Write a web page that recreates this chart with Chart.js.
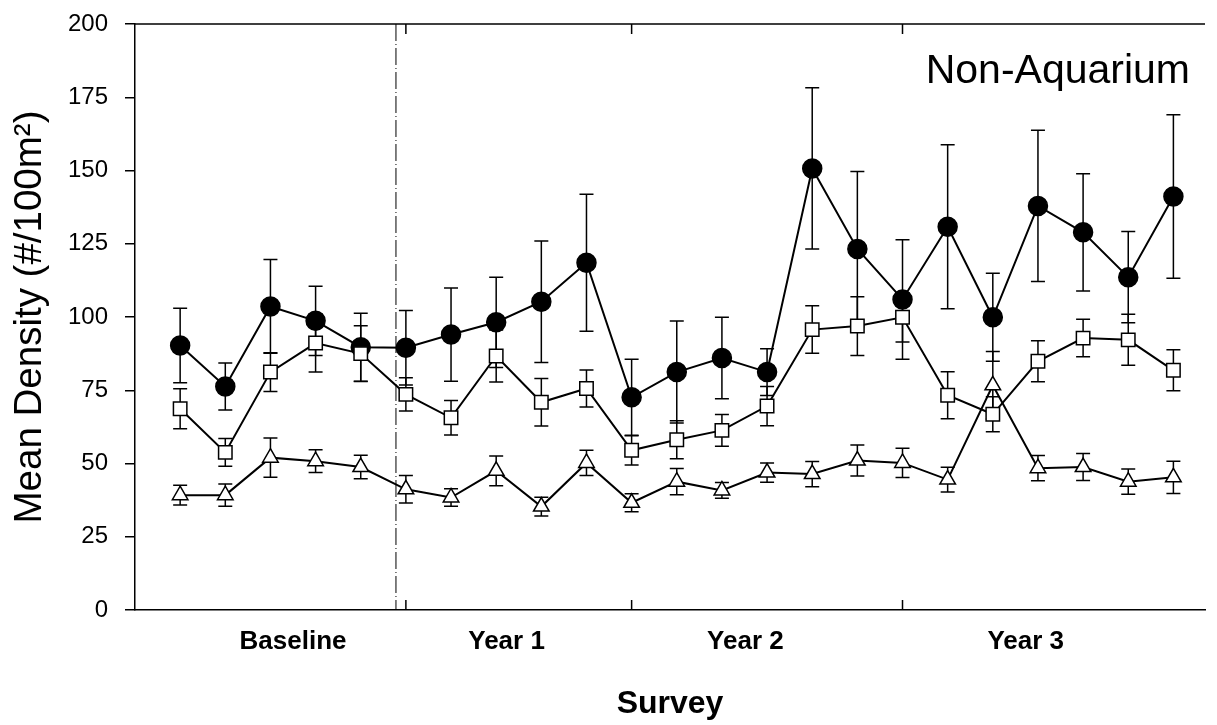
<!DOCTYPE html>
<html>
<head>
<meta charset="utf-8">
<script src="https://cdn.jsdelivr.net/npm/chart.js@4"></script>
<style>
    html, body { margin: 0; padding: 0; background: #fff; overflow: hidden; }
    #wrap { width: 1217px; height: 725px; }
</style>
</head>
<body>
<div id="wrap"><canvas id="densityChart"></canvas></div>
<script>
/*************************************************
 * Mean density per survey, Non-Aquarium sites   *
 *************************************************/
const surveys = [1, 2, 3, 4, 5, 6, 7, 8, 9, 10, 11, 12, 13, 14, 15, 16, 17, 18, 19, 20, 21, 22, 23];

// filled circles
const circleMean = [90.3, 76.3, 103.6, 98.7, 89.7, 89.5, 94.0, 98.2, 105.2, 118.5, 72.6, 81.2,
    86.0, 81.2, 150.7, 123.2, 106.0, 130.8, 99.9, 137.9, 128.9, 113.6, 141.1];
const circleErr = [12.7, 8.0, 16.0, 11.8, 11.6, 12.7, 15.9, 15.4, 20.7, 23.4, 13.0, 17.4,
    13.9, 8.0, 27.5, 26.5, 20.4, 28.0, 15.0, 25.8, 20.0, 15.6, 27.9];

// open squares
const squareMean = [68.7, 53.8, 81.2, 91.1, 87.5, 73.6, 65.6, 86.7, 70.9, 75.6, 54.5, 58.1,
    61.3, 69.6, 95.7, 96.9, 99.9, 73.3, 66.8, 84.9, 92.8, 92.2, 81.8];
const squareErr = [6.8, 4.7, 6.6, 9.9, 9.5, 5.7, 5.9, 8.9, 8.1, 6.3, 5.0, 6.5,
    5.4, 6.7, 8.1, 10.0, 8.4, 8.0, 6.0, 7.0, 6.4, 8.7, 7.0];

// open triangles
const triangleMean = [39.2, 39.2, 52.0, 50.8, 48.8, 41.2, 38.4, 47.5, 35.3, 50.2, 36.6, 43.8,
    40.8, 46.9, 46.4, 51.0, 50.2, 44.5, 76.7, 48.4, 48.8, 43.8, 45.3];
const triangleErr = [3.4, 3.8, 6.7, 3.9, 4.0, 4.7, 3.0, 5.1, 3.2, 4.3, 3.1, 4.5,
    2.7, 3.3, 4.3, 5.3, 5.0, 4.2, 11.5, 4.3, 4.6, 4.3, 5.5];

const periodLabels = ['Baseline', 'Year 1', 'Year 2', 'Year 3'];
const periodLabelPos = [3.5, 8.23, 13.52, 19.73];
const periodBreaks = [6, 11, 17];
const startLineAt = 5.78;

Chart.defaults.font.family = "'Liberation Sans', Arial, sans-serif";
Chart.defaults.color = '#000';

function makeSeries(means, errs, style, radius, fill) {
    return {
        data: surveys.map((s, i) => ({ x: s, y: means[i] })),
        errors: errs,
        borderColor: '#000',
        borderWidth: 2,
        pointStyle: style,
        pointRadius: radius,
        pointBackgroundColor: fill,
        pointBorderColor: '#000',
        pointBorderWidth: 1.5,
        tension: 0
    };
}

// error bars go under the lines and markers
const errorBars = {
    id: 'errorBars',
    beforeDatasetsDraw(chart) {
        const ctx = chart.ctx;
        const y = chart.scales.y;
        ctx.save();
        ctx.strokeStyle = '#000';
        ctx.lineWidth = 1.5;
        chart.data.datasets.forEach((ds, di) => {
            const meta = chart.getDatasetMeta(di);
            meta.data.forEach((pt, i) => {
                const v = ds.data[i].y;
                const e = ds.errors[i];
                const yTop = y.getPixelForValue(v + e);
                const yBot = y.getPixelForValue(v - e);
                ctx.beginPath();
                ctx.moveTo(pt.x, yTop);
                ctx.lineTo(pt.x, yBot);
                ctx.moveTo(pt.x - 7, yTop);
                ctx.lineTo(pt.x + 7, yTop);
                ctx.moveTo(pt.x - 7, yBot);
                ctx.lineTo(pt.x + 7, yBot);
                ctx.stroke();
            });
        });

        // dash-dot line marking end of baseline
        const xPix = chart.scales.x.getPixelForValue(startLineAt);
        ctx.lineWidth = 1;
        ctx.setLineDash([17, 3, 1, 3]);
        ctx.beginPath();
        ctx.moveTo(xPix, chart.chartArea.top);
        ctx.lineTo(xPix, chart.chartArea.bottom);
        ctx.stroke();
        ctx.restore();
    }
};

// top frame line, inward period ticks and the panel label
const frame = {
    id: 'frame',
    afterDraw(chart) {
        const ctx = chart.ctx;
        const { left, right, top, bottom } = chart.chartArea;
        const x = chart.scales.x;
        ctx.save();
        ctx.strokeStyle = '#000';
        ctx.lineWidth = 1.5;
        ctx.beginPath();
        ctx.moveTo(left, top);
        ctx.lineTo(right, top);
        periodBreaks.forEach(b => {
            const px = x.getPixelForValue(b);
            ctx.moveTo(px, bottom);
            ctx.lineTo(px, bottom - 10);
            ctx.moveTo(px, top);
            ctx.lineTo(px, top + 10);
        });
        ctx.stroke();

        ctx.fillStyle = '#000';
        ctx.font = "41px 'Liberation Sans', Arial, sans-serif";
        ctx.textAlign = 'right';
        ctx.textBaseline = 'alphabetic';
        ctx.fillText('Non-Aquarium', 1190, 83);
        ctx.restore();
    }
};

const densityChart = new Chart(document.getElementById('densityChart').getContext('2d'), {
    type: 'line',
    data: {
        datasets: [
            makeSeries(triangleMean, triangleErr, 'triangle', 9, '#fff'),
            makeSeries(squareMean, squareErr, 'rect', 9.5, '#fff'),
            makeSeries(circleMean, circleErr, 'circle', 9.5, '#000')
        ]
    },
    options: {
        responsive: true,
        maintainAspectRatio: false,
        animation: false,
        layout: {
            autoPadding: false,
            padding: { top: 24, right: 12, left: 0, bottom: 0 }
        },
        plugins: {
            legend: { display: false },
            tooltip: { enabled: false }
        },
        scales: {
            x: {
                type: 'linear',
                min: 0,
                max: 23.7,
                afterBuildTicks: scale => {
                    scale.ticks = periodLabelPos.map(v => ({ value: v }));
                },
                afterFit: scale => {
                    scale.height = 115;
                },
                ticks: {
                    autoSkip: false,
                    maxRotation: 0,
                    padding: 16,
                    font: { size: 26, weight: 'bold' },
                    callback: (value, index) => periodLabels[index]
                },
                grid: { display: false, drawTicks: false },
                border: { display: true, color: '#000', width: 1.5 },
                title: {
                    display: true,
                    text: 'Survey',
                    font: { size: 32, weight: 'bold' },
                    padding: { top: 0, bottom: 2 }
                }
            },
            y: {
                min: 0,
                max: 200,
                afterFit: scale => {
                    scale.width = 135;
                    // the 200 label may overhang the top; don't reserve room for it
                    scale.paddingTop = 0;
                    scale.paddingBottom = 0;
                },
                ticks: {
                    stepSize: 25,
                    padding: 17,
                    font: { size: 24 }
                },
                grid: {
                    drawOnChartArea: false,
                    tickLength: 10,
                    color: '#000',
                    lineWidth: 1.5
                },
                border: { display: true, color: '#000', width: 1.5 },
                title: {
                    display: true,
                    text: 'Mean Density (#/100m²)',
                    font: { size: 38.5 },
                    padding: { top: 7, bottom: 0 }
                }
            }
        }
    },
    plugins: [errorBars, frame]
});
</script>
</body>
</html>
